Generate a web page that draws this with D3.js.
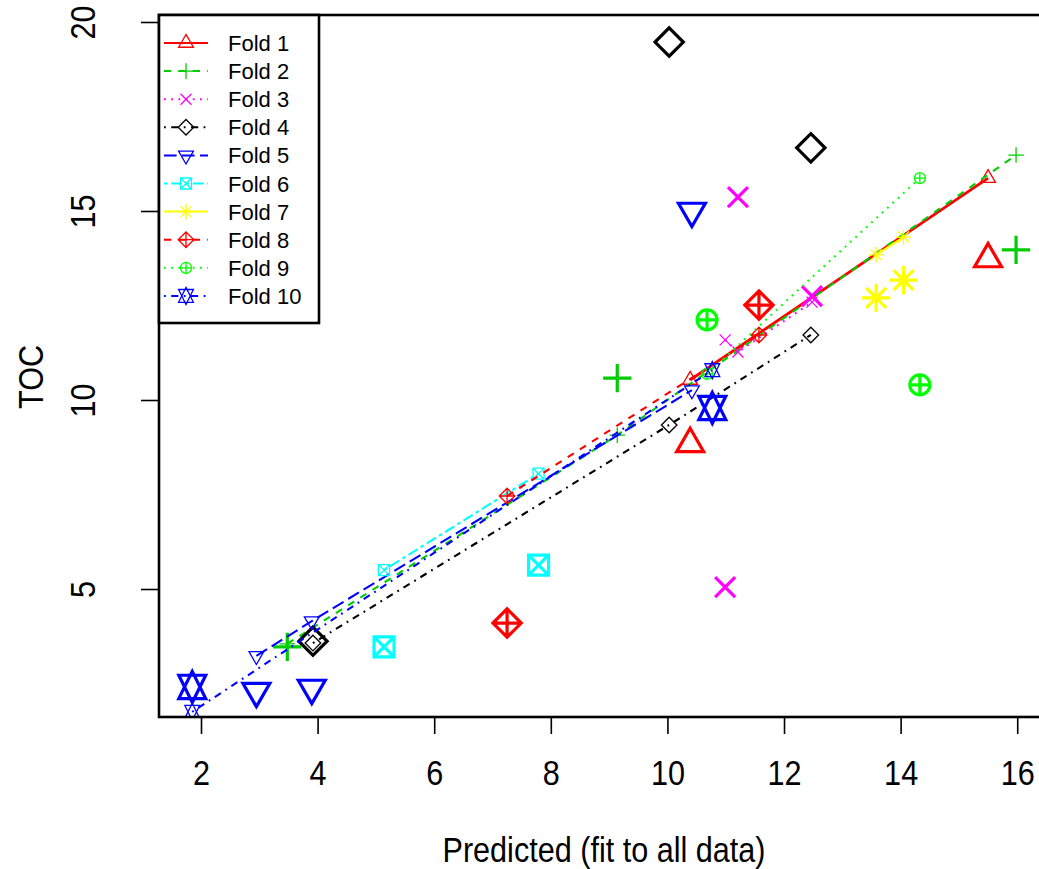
<!DOCTYPE html>
<html>
<head>
<meta charset="utf-8">
<script src="https://cdn.jsdelivr.net/npm/d3@7"></script>
<style>
  body { margin: 0; background: #fff; }
  svg { display: block; }
</style>
</head>
<body>
<svg id="chart" width="1039" height="869"></svg>
<script>
// Cross-validation folds: each fold's held-out observations
const folds = ["Fold 1", "Fold 2", "Fold 3", "Fold 4", "Fold 5",
               "Fold 6", "Fold 7", "Fold 8", "Fold 9", "Fold 10"];
const foldColors = ["#FF0000", "#00CD00", "#FF00FF", "#000000", "#0000FF",
                    "#00FFFF", "#FFFF00", "#FF0000", "#00FF00", "#0000FF"];
const foldPch = [2, 3, 4, 5, 6, 7, 8, 9, 10, 11];
const foldLty = ["solid", "dashed", "dotted", "dotdash", "longdash",
                 "twodash", "solid", "dashed", "dotted", "dotdash"];

// Predicted value from the model fit to all data (x)
const predictedAll = [
  [10.39, 15.50],
  [3.48, 9.14, 15.98],
  [10.99, 11.21, 12.48],
  [3.92, 10.03, 12.46],
  [2.95, 3.90, 10.42],
  [5.14, 7.79],
  [13.58, 14.05],
  [7.25, 11.57],
  [10.68, 14.33],
  [1.85, 10.77]
];
// Observed TOC for the held-out rows
const observedTOC = [
  [8.84, 13.73],
  [3.47, 10.58, 13.97],
  [5.05, 15.37, 12.75],
  [3.62, 19.47, 16.67],
  [2.30, 2.38, 15.00],
  [3.47, 5.63],
  [12.70, 13.17],
  [4.10, 12.51],
  [12.12, 10.40],
  [2.41, 9.79]
];
// Predictions from the model fit with that fold left out
const foldPredicted = [
  [10.53, 15.87],
  [3.55, 9.07, 16.48],
  [11.59, 11.27, 12.59],
  [3.57, 9.34, 11.72],
  [3.23, 4.15, 10.26],
  [5.50, 8.05],
  [13.84, 14.31],
  [7.46, 11.72],
  [10.69, 15.87],
  [1.75, 10.79]
];

const xTicks = [2, 4, 6, 8, 10, 12, 14, 16];
const yTicks = [5, 10, 15, 20];
const xTitle = "Predicted (fit to all data)";
const yTitle = "TOC";

const svg = d3.select("#chart");
const font = "'Liberation Sans', Arial, Helvetica, sans-serif";
const axisFont = 36, axisStretch = 0.85;

const plot = { left: 159, right: 1049, top: 15, bottom: 717 };
const x = d3.scaleLinear().domain([1.2796, 16.545]).range([plot.left, plot.right]);
const y = d3.scaleLinear().domain([1.614, 20.185]).range([plot.bottom, plot.top]);

// dash patterns in line-width units
const dashUnit = 1.8;
const ltyDash = {
  solid: null,
  dashed: [4, 4],
  dotted: [1, 3],
  dotdash: [1, 3, 4, 3],
  longdash: [7, 3],
  twodash: [2, 2, 6, 2]
};
function dashArray(lty) {
  const d = ltyDash[lty];
  return d ? d.map(v => v * dashUnit).join(",") : null;
}

// plotting symbols following the usual pch shapes
function symbolPath(pch, cx, cy, s) {
  const r2 = Math.SQRT2 * s;
  const tr = 1.555 * s, tw = 1.347 * s, tb = 0.777 * s;
  const plus = a => `M${cx - a},${cy}H${cx + a}M${cx},${cy - a}V${cy + a}`;
  const cross = a => `M${cx - a},${cy - a}L${cx + a},${cy + a}M${cx - a},${cy + a}L${cx + a},${cy - a}`;
  const diamond = a => `M${cx},${cy - a}L${cx + a},${cy}L${cx},${cy + a}L${cx - a},${cy}Z`;
  switch (pch) {
    case 2: return `M${cx},${cy - tr}L${cx + tw},${cy + tb}L${cx - tw},${cy + tb}Z`;
    case 3: return plus(r2);
    case 4: return cross(s);
    case 5: return diamond(r2);
    case 6: return `M${cx},${cy + tr}L${cx + tw},${cy - tb}L${cx - tw},${cy - tb}Z`;
    case 7: return `M${cx - s},${cy - s}H${cx + s}V${cy + s}H${cx - s}Z` + cross(s);
    case 8: return cross(s) + plus(r2);
    case 9: return diamond(r2) + plus(r2);
    case 10: return `M${cx + s},${cy}A${s},${s} 0 1 1 ${cx - s},${cy}A${s},${s} 0 1 1 ${cx + s},${cy}Z` + plus(s);
    case 11: {
      const yc = 0.5 * (tb + tr);
      return `M${cx},${cy + tr}L${cx + tw},${cy - yc}L${cx - tw},${cy - yc}Z` +
             `M${cx},${cy - tr}L${cx + tw},${cy + yc}L${cx - tw},${cy + yc}Z`;
    }
  }
  return "";
}

const bigSize = 10, smallSize = 5.5;

// clip for the data region
svg.append("defs").append("clipPath").attr("id", "plotClip")
  .append("rect")
  .attr("x", plot.left).attr("y", plot.top)
  .attr("width", plot.right - plot.left).attr("height", plot.bottom - plot.top);

const dataLayer = svg.append("g").attr("clip-path", "url(#plotClip)");
const line = d3.line().x(d => x(d[0])).y(d => y(d[1]));

folds.forEach((name, i) => {
  const g = dataLayer.append("g").attr("class", "fold");
  const col = foldColors[i];
  // held-out observations
  predictedAll[i].forEach((px, j) => {
    g.append("path")
      .attr("d", symbolPath(foldPch[i], x(px), y(observedTOC[i][j]), bigSize))
      .attr("fill", "none").attr("stroke", col)
      .attr("stroke-width", 3.2).attr("stroke-linejoin", "miter");
  });
  // fold-model predictions
  const pts = predictedAll[i].map((px, j) => [px, foldPredicted[i][j]])
    .sort((a, b) => a[0] - b[0]);
  g.append("path")
    .attr("d", line(pts))
    .attr("fill", "none").attr("stroke", col)
    .attr("stroke-width", i === 0 ? 2.8 : 2.1)
    .attr("stroke-dasharray", dashArray(foldLty[i]));
  pts.forEach(p => {
    g.append("path")
      .attr("d", symbolPath(foldPch[i], x(p[0]), y(p[1]), smallSize))
      .attr("fill", "none").attr("stroke", col).attr("stroke-width", 1.3);
  });
});

// axes
const xAxis = svg.append("g")
  .attr("transform", `translate(0,${plot.bottom})`)
  .call(d3.axisBottom(x).tickValues(xTicks).tickSize(17).tickFormat(d3.format("d")));
const yAxis = svg.append("g")
  .attr("transform", `translate(${plot.left},0)`)
  .call(d3.axisLeft(y).tickValues(yTicks).tickSize(18).tickFormat(d3.format("d")));

[xAxis, yAxis].forEach(a => {
  a.select(".domain").remove();
  a.selectAll(".tick line").attr("stroke", "#000").attr("stroke-width", 1.6);
});
xAxis.selectAll(".tick text")
  .attr("y", null).attr("dy", null)
  .attr("transform", `translate(0,68) scale(${axisStretch},1)`)
  .attr("text-anchor", "middle")
  .style("font-family", font).style("font-size", axisFont + "px").attr("fill", "#000");
yAxis.selectAll(".tick text")
  .attr("x", null).attr("dy", null)
  .attr("transform", `translate(-64,0) rotate(-90) scale(${axisStretch},1)`)
  .attr("text-anchor", "middle")
  .style("font-family", font).style("font-size", axisFont + "px").attr("fill", "#000");

// axis titles
svg.append("text")
  .attr("transform", `translate(${(plot.left + 1049) / 2 + 0},862) scale(${axisStretch},1)`)
  .attr("text-anchor", "middle")
  .style("font-family", font).style("font-size", axisFont + "px")
  .text(xTitle);
svg.append("text")
  .attr("transform", `translate(43,377) rotate(-90) scale(${axisStretch},1)`)
  .attr("text-anchor", "middle")
  .style("font-family", font).style("font-size", axisFont + "px")
  .text(yTitle);

// plot frame
svg.append("rect")
  .attr("x", plot.left).attr("y", plot.top)
  .attr("width", plot.right - plot.left).attr("height", plot.bottom - plot.top)
  .attr("fill", "none").attr("stroke", "#000").attr("stroke-width", 2.6);

// legend
const legend = svg.append("g");
legend.append("rect")
  .attr("x", plot.left).attr("y", plot.top)
  .attr("width", 160).attr("height", 308)
  .attr("fill", "#fff").attr("stroke", "#000").attr("stroke-width", 2.6);
folds.forEach((name, i) => {
  const ly = 43 + i * 28.1;
  const col = foldColors[i];
  legend.append("line")
    .attr("x1", 164).attr("x2", 208).attr("y1", ly).attr("y2", ly)
    .attr("stroke", col).attr("stroke-width", 2)
    .attr("stroke-dasharray", dashArray(foldLty[i]));
  legend.append("path")
    .attr("d", symbolPath(foldPch[i], 186, ly, smallSize))
    .attr("fill", "none").attr("stroke", col).attr("stroke-width", 1.3);
  legend.append("text")
    .attr("x", 228).attr("y", ly + 8)
    .style("font-family", font).style("font-size", "22px")
    .text(name);
});
</script>
</body>
</html>
